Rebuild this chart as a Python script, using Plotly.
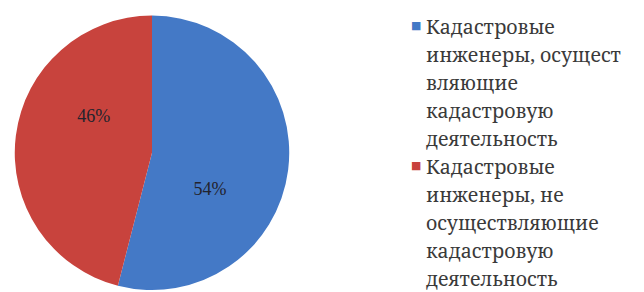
import plotly.graph_objects as go

labels = [
    "Кадастровые<br>инженеры, осущест<br>вляющие<br>кадастровую<br>деятельность",
    "Кадастровые<br>инженеры, не<br>осуществляющие<br>кадастровую<br>деятельность",
]
values = [54, 46]
colors = ["#4479c6", "#c8433d"]

SERIF_LAT = "Liberation Serif, Times New Roman, serif"
SERIF_CYR = "Noto Serif, DejaVu Serif, serif"
dom = dict(x=[0.0096, 0.4376], y=[0.034, 0.974])

fig = go.Figure()
# visible pie
fig.add_trace(
    go.Pie(
        labels=labels,
        values=values,
        sort=False,
        direction="clockwise",
        rotation=0,
        marker=dict(colors=colors, line=dict(width=0)),
        textinfo="none",
        domain=dom,
        hoverinfo="skip",
        showlegend=False,
    )
)
# transparent overlay carrying the percentage labels (Excel-like placement)
fig.add_trace(
    go.Pie(
        labels=labels,
        values=values,
        sort=False,
        direction="clockwise",
        rotation=25,
        marker=dict(colors=["rgba(0,0,0,0)"] * len(values), line=dict(width=0)),
        texttemplate="%{percent:.0%}",
        textposition="inside",
        insidetextorientation="horizontal",
        textfont=dict(family=SERIF_LAT, size=18, color="#23232d"),
        domain=dom,
        hoverinfo="skip",
        showlegend=False,
    )
)

# legend drawn as text: line pitch set by outer font size, glyphs smaller
entry_tops = [0.989, 0.511]
for lab, col, ytop in zip(labels, colors, entry_tops):
    txt = "<br>".join(
        f"<span style='font-size:19.5px'>{ln}</span>" for ln in lab.split("<br>")
    )
    fig.add_annotation(
        xref="paper", yref="paper",
        x=416 / 644, y=ytop,
        xanchor="left", yanchor="top",
        text=txt, align="left", showarrow=False,
        font=dict(family=SERIF_CYR, size=21.5, color="#3a3a3a"),
    )
    fig.add_annotation(
        xref="paper", yref="paper",
        x=408 / 644, y=ytop - 0.050,
        xanchor="center", yanchor="middle",
        text="■", showarrow=False,
        font=dict(family="DejaVu Sans", size=11, color=col),
    )

fig.update_layout(
    width=644,
    height=292,
    margin=dict(l=0, r=0, t=0, b=0),
    paper_bgcolor="white",
    plot_bgcolor="white",
    showlegend=False,
)

fig.write_html("out.html")
